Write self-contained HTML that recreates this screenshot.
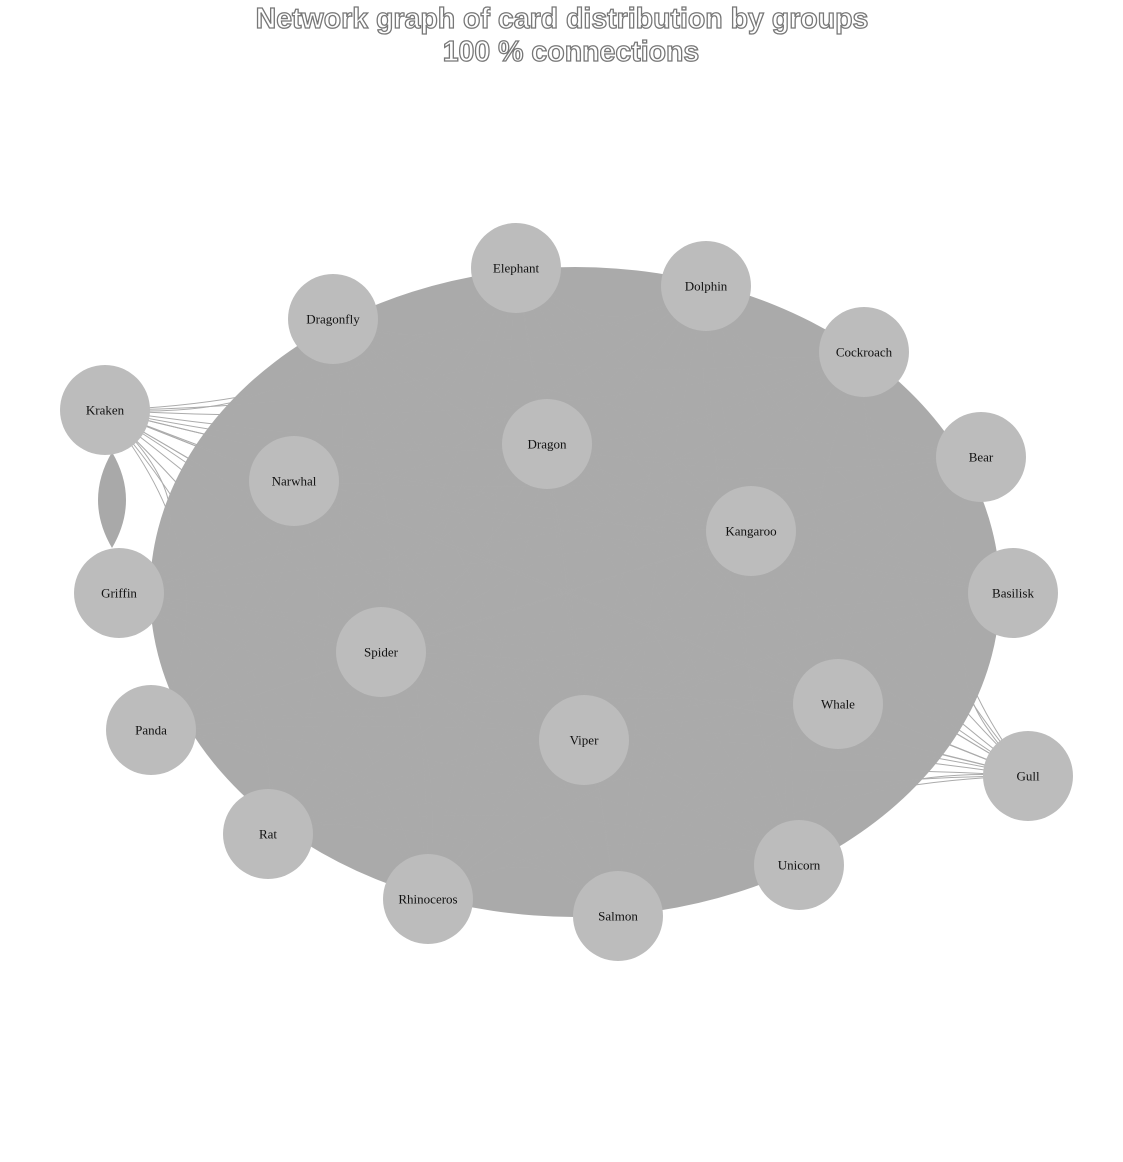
<!DOCTYPE html>
<html><head><meta charset="utf-8"><style>
body{margin:0;background:#fff;width:1123px;height:1162px;overflow:hidden}
svg{display:block}
.t{font-family:"Liberation Sans",sans-serif;font-size:28.5px;fill:#fff;stroke:#777;stroke-width:1.3px;text-anchor:middle;font-weight:bold}
.n{font-family:"Liberation Serif",serif;font-size:13px;fill:#111;text-anchor:middle;dominant-baseline:central}
</style></head><body>
<svg id="c" width="1123" height="1162">
<text class="t" x="562" y="28">Network graph of card distribution by groups</text>
<text class="t" x="571" y="61">100 % connections</text>
<ellipse cx="575" cy="592" rx="425" ry="325" fill="#aaaaaa"/>
<path d="M112,452 Q140,500 112,548 Q84,500 112,452Z" fill="#a9a9a9"/>
<g id="edges"></g><g id="nodes"></g>
</svg>
<script>
const names=["Elephant","Dolphin","Cockroach","Bear","Basilisk","Gull","Unicorn","Salmon","Rhinoceros","Rat","Panda","Griffin","Kraken","Dragonfly","Narwhal","Dragon","Kangaroo","Spider","Viper","Whale"];
const xs=[516,706,864,981,1013,1028,799,618,428,268,151,119,105,333,294,547,751,381,584,838];
const ys=[268,286,352,457,593,776,865,916,899,834,730,593,410,319,481,444,531,652,740,704];
const NS="http://www.w3.org/2000/svg";
const eg=document.getElementById('edges'),ng=document.getElementById('nodes');
const cx=578,cy=590;
for(let i=0;i<names.length;i++)for(let j=i+1;j<names.length;j++){
  const mx=(xs[i]+xs[j])/2,my=(ys[i]+ys[j])/2;
  const qx=mx+(cx-mx)*0.25,qy=my+(cy-my)*0.25;
  const p=document.createElementNS(NS,'path');
  p.setAttribute('d',`M${xs[i]},${ys[i]}Q${qx},${qy} ${xs[j]},${ys[j]}`);
  p.setAttribute('fill','none');p.setAttribute('stroke','#ababab');p.setAttribute('stroke-width','1');
  
  
  eg.appendChild(p);
}
names.forEach((n,i)=>{
  const g=document.createElementNS(NS,'g');
  
  
  const c=document.createElementNS(NS,'circle');
  c.setAttribute('cx',xs[i]);c.setAttribute('cy',ys[i]);c.setAttribute('r',45);c.setAttribute('fill','#bcbcbc');
  const t=document.createElementNS(NS,'text');
  t.setAttribute('class','n');t.setAttribute('x',xs[i]);t.setAttribute('y',ys[i]);t.textContent=n;
  g.appendChild(c);g.appendChild(t);ng.appendChild(g);
});
</script>
</body></html>
